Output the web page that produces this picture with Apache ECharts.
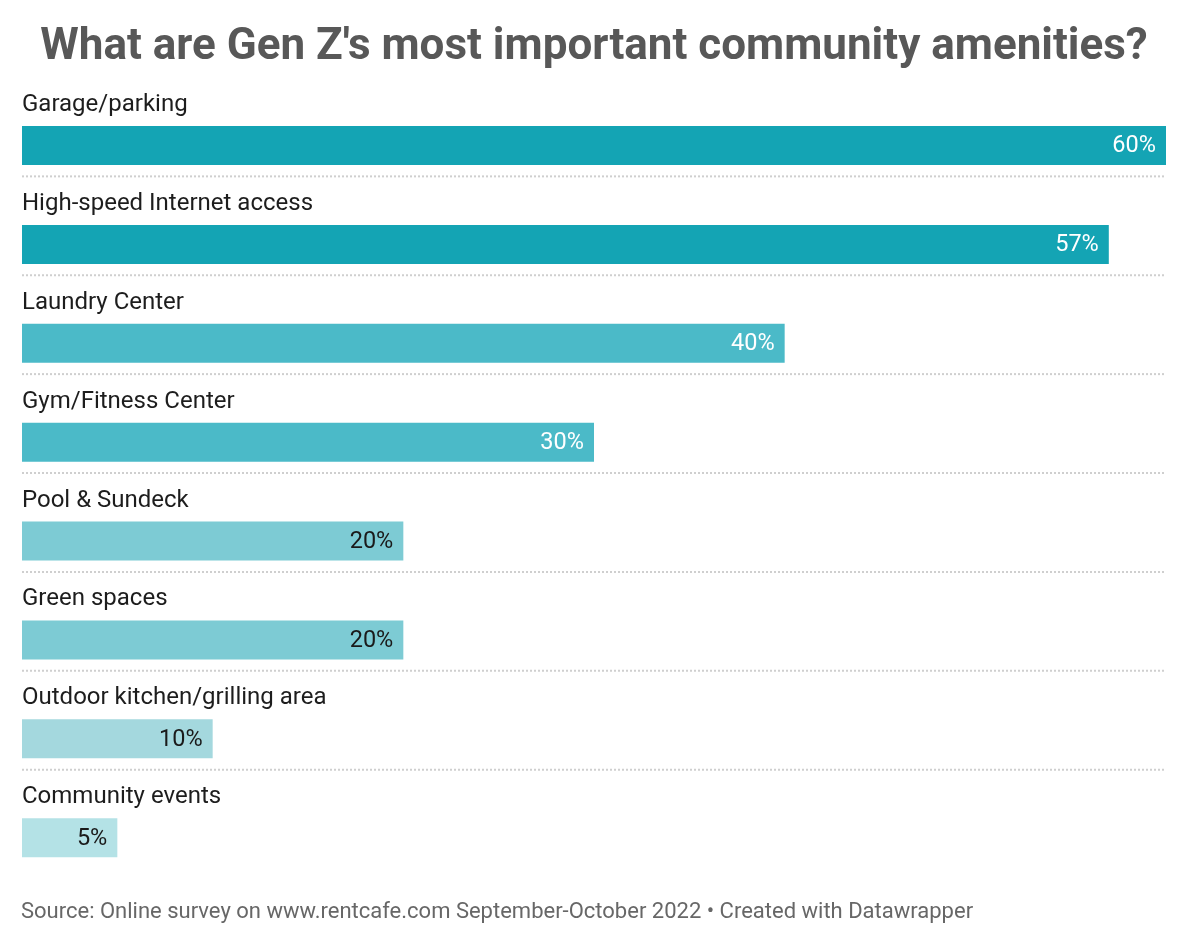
<!DOCTYPE html>
<html>
<head>
<meta charset="utf-8">
<script src="https://cdn.jsdelivr.net/npm/echarts@6/dist/echarts.min.js"></script>
<style>html,body{margin:0;padding:0;background:#fff;}#c{width:1188px;height:946px;}</style>
</head>
<body>
<div id="c"></div>
<script>
const categories = ["Garage/parking","High-speed Internet access","Laundry Center","Gym/Fitness Center","Pool & Sundeck","Green spaces","Outdoor kitchen/grilling area","Community events"];
const values = [60, 57, 40, 30, 20, 20, 10, 5];
const barColors = ["#14a4b4","#14a4b4","#4bbac8","#4bbac8","#7dcbd4","#7dcbd4","#a4d8de","#b4e2e6"];
const labelColors = ["#ffffff","#ffffff","#ffffff","#ffffff","#1a1a1a","#1a1a1a","#1a1a1a","#1a1a1a"];
const titleText = "What are Gen Z's most important community amenities?";
const sourceText = "Source: Online survey on www.rentcafe.com September-October 2022 • Created with Datawrapper";

const chart = echarts.init(document.getElementById('c'));
const FONT = 'Roboto, "Noto Sans", sans-serif';
chart.setOption({
  animation: false,
  backgroundColor: '#fff',
  title: [
    {text: titleText, left: 'center', top: 21, textStyle: {fontFamily: FONT, fontWeight: 'bold', fontSize: 44, color: '#585858'}},
    {text: sourceText, left: 16, top: 896, textStyle: {fontFamily: FONT, fontWeight: 'normal', fontSize: 22, color: '#676767'}}
  ],
  grid: {left: 22, right: 22, top: 78, bottom: 77, containLabel: false},
  xAxis: {type: 'value', min: 0, max: 60, show: false},
  yAxis: {type: 'category', data: categories, inverse: true, show: false},
  series: [{
    type: 'custom',
    data: values.map((v, i) => [v, i]),
    encode: {x: 0, y: 1},
    renderItem: function (params, api) {
      const i = api.value(1);
      const v = api.value(0);
      const start = api.coord([0, i]);
      const end = api.coord([v, i]);
      const band = api.size([0, 1])[1];
      const bandTop = start[1] - band / 2;
      const barTop = bandTop + 48;
      const barH = 39;
      const right = api.coord([60, i])[0];
      const children = [
        {type: 'rect', shape: {x: start[0], y: barTop, width: end[0] - start[0], height: barH}, style: {fill: barColors[i]}},
        {type: 'text', x: end[0] - 10, y: barTop + barH / 2 + 1, style: {text: v + '%', fill: labelColors[i], font: '23.5px ' + FONT, align: 'right', verticalAlign: 'middle'}},
        {type: 'text', x: start[0], y: bandTop + 27, style: {text: categories[i], fill: '#1d1d1d', font: '24px ' + FONT, align: 'left', verticalAlign: 'middle'}}
      ];
      if (i < categories.length - 1) {
        children.push({type: 'line', shape: {x1: start[0], y1: bandTop + band - 0.5, x2: right, y2: bandTop + band - 0.5}, style: {stroke: '#cfcfcf', lineWidth: 2, lineDash: [2, 2]}});
      }
      return {type: 'group', children: children};
    }
  }]
});
</script>
</body>
</html>
